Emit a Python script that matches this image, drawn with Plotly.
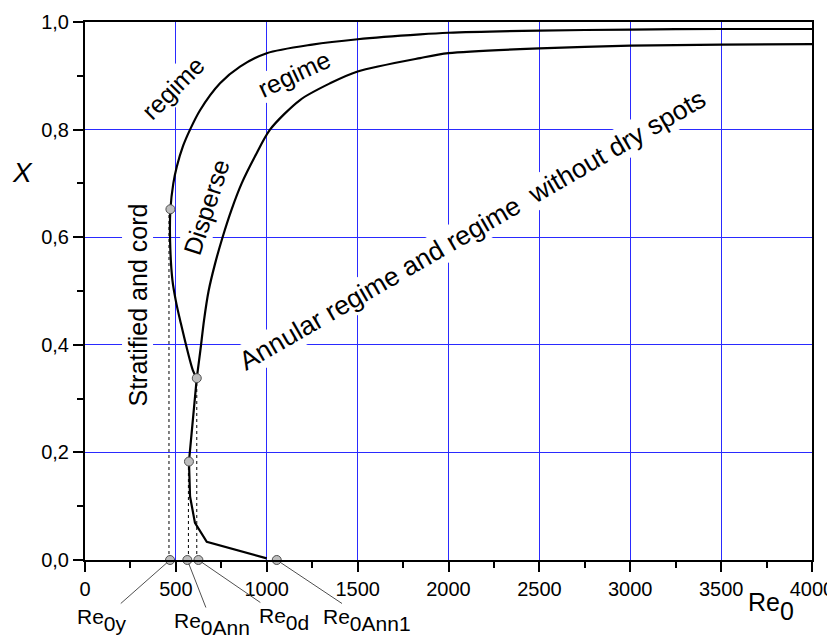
import plotly.graph_objects as go

# ---- data (Re0, X) ----
# lower common branch (polyline)
low_re = [1000, 670, 605, 578, 572, 615]
low_x = [0.003, 0.034, 0.069, 0.118, 0.183, 0.338]

# left boundary (Stratified/cord <-> Disperse)
left_re = [615, 593, 523, 499, 481, 468, 470, 486, 505, 540, 578, 633,
           743, 853, 1000, 1250, 1500, 1844, 2000, 2500, 3000, 3500, 4000]
left_x = [0.338, 0.353, 0.446, 0.483, 0.52, 0.595, 0.652, 0.700,
          0.731, 0.77, 0.80, 0.836, 0.886, 0.917, 0.942, 0.958, 0.968, 0.977, 0.980, 0.984, 0.986, 0.987, 0.987]

# right boundary (Disperse <-> Annular)
right_re = [615, 635, 655, 680, 715, 757, 805, 862, 935, 1018, 1183, 1348, 1500, 1844, 2000, 2500, 3000,
            3500, 4000]
right_x = [0.338, 0.39, 0.446, 0.50, 0.55, 0.60, 0.65, 0.70, 0.75, 0.80, 0.855, 0.886, 0.908, 0.933,
           0.942, 0.951, 0.956, 0.958, 0.959]

# characteristic points
point_re = [470, 615, 572]
point_x = [0.652, 0.338, 0.183]
axis_point_re = [468, 563, 624, 1055]
axis_point_x = [0, 0, 0, 0]
axis_point_subs = ["0y", "0Ann", "0d", "0Ann1"]
label_offsets = [(-68, 60), (25, 64), (86, 59), (90, 60)]

# dotted projections
proj_re = [462, 569, 615]
proj_top = [0.652, 0.183, 0.338]

x_tickvals = [0, 500, 1000, 1500, 2000, 2500, 3000, 3500, 4000]
x_ticktext = ["0", "500", "1000", "1500", "2000", "2500", "3000", "3500", "4000"]
y_tickvals = [0, 0.2, 0.4, 0.6, 0.8, 1.0]
y_ticktext = ["0,0", "0,2", "0,4", "0,6", "0,8", "1,0"]

FONT = "Arial, Liberation Sans, sans-serif"

fig = go.Figure()

for xr, top in zip(proj_re, proj_top):
    fig.add_trace(go.Scatter(x=[xr, xr], y=[0, top], mode="lines",
                             line=dict(color="black", width=1, dash="dot"),
                             showlegend=False, hoverinfo="skip"))

fig.add_trace(go.Scatter(x=low_re, y=low_x, mode="lines",
                         line=dict(color="black", width=2.2), showlegend=False))
fig.add_trace(go.Scatter(x=left_re, y=left_x, mode="lines",
                         line=dict(color="black", width=2.2, shape="spline", smoothing=0.8),
                         showlegend=False))
fig.add_trace(go.Scatter(x=right_re, y=right_x, mode="lines",
                         line=dict(color="black", width=2.2, shape="spline", smoothing=0.8),
                         showlegend=False))

marker_style = dict(size=9, color="#bdbdbd", line=dict(color="#505050", width=1))
fig.add_trace(go.Scatter(x=point_re, y=point_x, mode="markers", marker=marker_style,
                         showlegend=False, cliponaxis=False))
fig.add_trace(go.Scatter(x=axis_point_re, y=axis_point_x, mode="markers", marker=marker_style,
                         showlegend=False, cliponaxis=False))

annotations = []
# leader-line labels
for xr, yv, sub, (ax, ay) in zip(axis_point_re, axis_point_x, axis_point_subs, label_offsets):
    name = "Re<sub><sub><span style='font-size:21px'>%s</span></sub></sub>" % sub
    annotations.append(dict(x=xr, y=yv, xref="x", yref="y", text=name, showarrow=True,
                            arrowhead=0, arrowwidth=1, arrowcolor="#505050", ax=ax, ay=ay,
                            font=dict(family=FONT, size=21, color="black"), standoff=4))

# regime texts
regime_texts = [
    ("regime", 484, 0.877, -45, 25, 1),
    ("regime", 1150, 0.903, -25, 25, 0),
    ("Disperse", 668, 0.656, -72, 25, 1),
    ("Stratified and cord", 289, 0.474, -90, 25, 1),
    ("Annular regime and regime  without dry spots", 2130, 0.613, -30, 26.5, 1),
]
for txt, xr, yv, ang, fs, pad in regime_texts:
    annotations.append(dict(x=xr, y=yv, xref="x", yref="y", text=txt, showarrow=False,
                            textangle=ang, bgcolor="white", borderpad=pad,
                            xanchor="center", yanchor="middle",
                            font=dict(family=FONT, size=fs, color="black")))

# axis titles
annotations.append(dict(x=-0.0853, y=0.721, xref="paper", yref="paper", text="<i>X</i>",
                        xanchor="center", yanchor="middle",
                        showarrow=False, font=dict(family=FONT, size=28, color="black")))
annotations.append(dict(x=0.944, y=-0.086, xref="paper", yref="paper",
                        text="Re<sub><sub><span style='font-size:25px'>0</span></sub></sub>",
                        xanchor="center", yanchor="middle",
                        showarrow=False, font=dict(family=FONT, size=25, color="black")))

axis_common = dict(showline=True, linecolor="black", linewidth=2, mirror=True,
                   ticks="outside", ticklen=10, tickwidth=2, tickcolor="black",
                   showgrid=True, gridcolor="#2a2aff", gridwidth=1, zeroline=False,
                   automargin=False,
                   tickfont=dict(family=FONT, size=20, color="black"))

# the page body has an 8px margin, so the figure is 8px smaller than the window
fig.update_layout(
    width=827, height=629,
    margin=dict(l=77, r=23, t=14, b=77),
    paper_bgcolor="white", plot_bgcolor="white",
    xaxis=dict(range=[0, 4000], tickmode="array", tickvals=x_tickvals, ticktext=x_ticktext,
               minor=dict(dtick=250, ticklen=6, tickwidth=1.5, tickcolor="black", ticks="outside",
                          showgrid=False),
               **axis_common),
    yaxis=dict(range=[0, 1.0], tickmode="array", tickvals=y_tickvals, ticktext=y_ticktext,
               minor=dict(dtick=0.1, ticklen=6, tickwidth=1.5, tickcolor="black", ticks="outside",
                          showgrid=False),
               **axis_common),
    annotations=annotations,
)

fig.write_html("out.html")
